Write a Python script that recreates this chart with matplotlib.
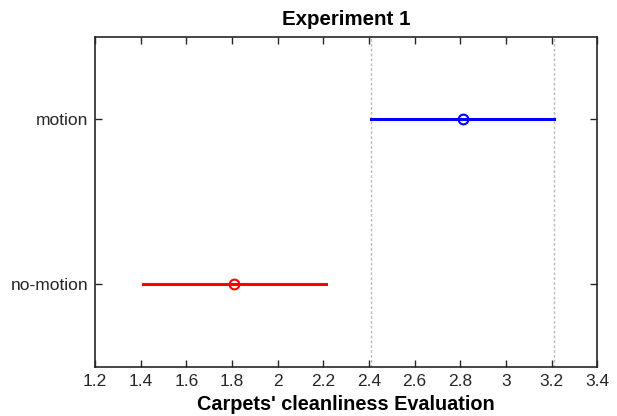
import matplotlib
matplotlib.use("Agg")
import matplotlib.pyplot as plt

plt.rcParams['font.family'] = ['Liberation Sans', 'DejaVu Sans']

categories = ["no-motion", "motion"]
means = [1.81, 2.81]
half_ci = [0.40, 0.40]
colors = ["#ff0000", "#0000ff"]
ref_lines = [2.41, 3.21]
xticks = [1.2, 1.4, 1.6, 1.8, 2.0, 2.2, 2.4, 2.6, 2.8, 3.0, 3.2, 3.4]
xticklabels = ["1.2", "1.4", "1.6", "1.8", "2", "2.2", "2.4", "2.6", "2.8", "3", "3.2", "3.4"]

fig = plt.figure(figsize=(6.17, 4.16), dpi=100)
ax = fig.add_axes([0.154, 0.118, 0.814, 0.793])

for xv in ref_lines:
    ax.axvline(xv, color="#bbbbbb", linestyle=(0, (2, 1.5)), linewidth=1.0, zorder=1)

for i, (m, h, c) in enumerate(zip(means, half_ci, colors)):
    y = i + 1
    ax.plot([m - h, m + h], [y, y], color=c, linewidth=2.2, zorder=2)
    ax.plot([m], [y], marker="o", markersize=7, markerfacecolor="none",
            markeredgecolor=c, markeredgewidth=1.5, zorder=3)

ax.set_xlim(1.2, 3.4)
ax.set_ylim(0.5, 2.5)
ax.set_xticks(xticks)
ax.set_xticklabels(xticklabels)
ax.set_yticks([1, 2])
ax.set_yticklabels(categories)
ax.tick_params(direction="in", top=True, right=True, length=5, width=1,
               labelsize=12.5, color="#262626", labelcolor="#262626", pad=5)
for sp in ax.spines.values():
    sp.set_linewidth(1.2)
    sp.set_color("#262626")
ax.set_xlabel("Carpets' cleanliness Evaluation", fontsize=14.3, fontweight="bold", labelpad=4.5)
ax.set_title("Experiment 1", fontsize=14.8, fontweight="bold", pad=9)

fig.savefig("out.png", dpi=100)
